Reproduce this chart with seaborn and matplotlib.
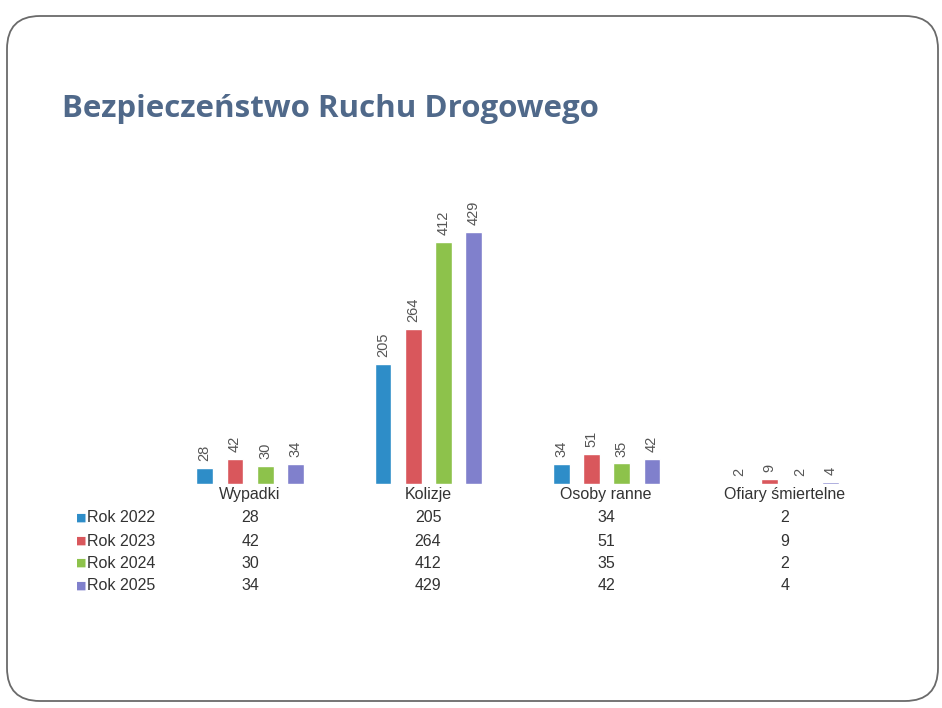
import numpy as np
import pandas as pd
import matplotlib
matplotlib.use("Agg")
import matplotlib.pyplot as plt
import seaborn as sns
from matplotlib.patches import FancyBboxPatch

# data
categories = ["Wypadki", "Kolizje", "Osoby ranne", "Ofiary śmiertelne"]
years = ["Rok 2022", "Rok 2023", "Rok 2024", "Rok 2025"]
rok_2022 = [28, 205, 34, 2]
rok_2023 = [42, 264, 51, 9]
rok_2024 = [30, 412, 35, 2]
rok_2025 = [34, 429, 42, 4]
colors = ["#2e8dc8", "#d9575c", "#8dc24b", "#8080cc"]

series = [rok_2022, rok_2023, rok_2024, rok_2025]
df = pd.DataFrame({
    "kategoria": np.tile(categories, len(years)),
    "rok": np.repeat(years, len(categories)),
    "wartosc": np.concatenate(series),
})

sns.set_style("white")
plt.rcParams["font.family"] = ["Liberation Sans", "DejaVu Sans"]

W, H = 942, 708
fig = plt.figure(figsize=(W / 100, H / 100), dpi=100)

# slide frame
frame = FancyBboxPatch((7 / W, 7 / H), 931 / W, 685 / H,
                       boxstyle="round,pad=0,rounding_size=0.035",
                       transform=fig.transFigure, facecolor="none",
                       edgecolor="#6a6a6a", lw=1.3, mutation_aspect=W / H)
fig.patches.append(frame)

fig.text(62 / W, 1 - 117 / H, "Bezpieczeństwo Ruchu Drogowego",
         fontsize=22.5, fontweight="bold", color="#50698a",
         family=["Open Sans", "DejaVu Sans"], ha="left", va="baseline")

# bar axes: group centres at x px 250..785, baseline at y px 484
left, right = 161, 874
bottom, top = 484, 180
ax = fig.add_axes([left / W, 1 - bottom / H, (right - left) / W, (bottom - top) / H])
sns.barplot(data=df, x="kategoria", y="wartosc", hue="rok", palette=colors,
            width=0.68, gap=0.45, ax=ax, legend=False, saturation=1)
ax.set_ylim(0, (bottom - top) / 0.587)
ax.set_xlim(-0.5, 3.5)
for c in ax.containers:
    ax.bar_label(c, rotation=90, padding=5, fontsize=10.5, color="#555555")
ax.set_axis_off()

# data table under the bars
row_y = [518, 541, 563, 586]
cat_x = [250, 428, 606, 785]
for cx, name in zip(cat_x, categories):
    fig.text(cx / W, 1 - 495 / H, name, ha="center", va="center",
             fontsize=11.5, color="#333333")
for ry, yr, vals, col in zip(row_y, years, series, colors):
    fig.text(81 / W, 1 - ry / H, "■", ha="center", va="center",
             fontsize=8, color=col, family=["DejaVu Sans"])
    fig.text(87 / W, 1 - ry / H, yr, ha="left", va="center",
             fontsize=11.5, color="#333333")
    for cx, v in zip(cat_x, vals):
        fig.text(cx / W, 1 - ry / H, str(v), ha="center", va="center",
                 fontsize=11.5, color="#333333")

fig.savefig("out.png", dpi=100, facecolor="white")
